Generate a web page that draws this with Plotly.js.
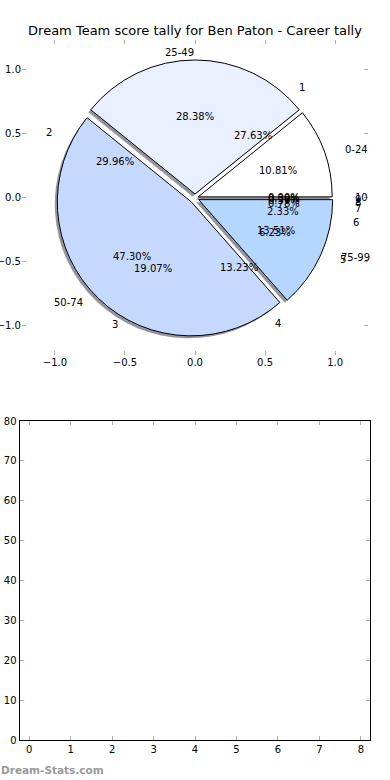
<!DOCTYPE html>
<html><head><meta charset="utf-8">
<script src="https://cdn.plot.ly/plotly-3.0.1.min.js"></script>
<style>html,body{margin:0;padding:0;background:#fff}#chart{width:390px;height:780px}</style>
</head><body><div id="chart"></div>
<script>
// ---- data ----
var rangeLabels = ['0-24', '25-49', '50-74', '75-99'];
var rangeValues = [10.81, 28.38, 47.30, 13.51];
var scoreLabels = ['1', '2', '3', '4', '5', '6', '7', '8', '9', '10'];
var scoreValues = [27.63, 29.96, 19.07, 13.23, 6.23, 2.33, 0.78, 0.39, 0.39, 0.00];
var pieTicks = [-1, -0.5, 0, 0.5, 1];
var lowerXTicks = [0, 1, 2, 3, 4, 5, 6, 7, 8];
var lowerYTicks = [0, 10, 20, 30, 40, 50, 60, 70, 80];

// ---- styles ----
var rangeColors = ['#ffffff', '#e9f0ff', '#c5d9ff', '#b4d6ff'];
var rangeExplode = [0.025, 0.03, 0.04, 0.03];
var textExplode = [0.03, 0.035, 0.045, 0.035];
var scoreExplode = 0.035;
var FONT = 'DejaVu Sans, sans-serif';
var W = 390, H = 780;
function px(x) { return x / W; }
function py(y) { return 1 - y / H; }
function sum(a) { return a.reduce(function (s, v) { return s + v; }, 0); }
// first slice starts at 3 o'clock and runs counterclockwise (matplotlib default)
function rot(values) { return 90 - 360 * values[0] / sum(values); }

var cx = 195, cy = 198, R = 134;
var maxPull = Math.max.apply(null, rangeExplode);
var half = R * (1 + maxPull);
function dom(dx, dy) {
  return { x: [px(cx - half + dx), px(cx + half + dx)], y: [py(cy + half + dy), py(cy - half + dy)] };
}

var traces = [];
traces.push({ type: 'scatter', x: [], y: [], xaxis: 'x', yaxis: 'y', showlegend: false });
traces.push({ type: 'scatter', x: [], y: [], xaxis: 'x2', yaxis: 'y2', showlegend: false });
// second pie (scores) underneath, hidden by the range pie
traces.push({
  type: 'pie', labels: scoreLabels, values: scoreValues, sort: false,
  direction: 'counterclockwise', rotation: rot(scoreValues), textinfo: 'none', hoverinfo: 'skip',
  marker: { colors: scoreLabels.map(function () { return 'rgba(0,0,0,0)'; }), line: { width: 0 } },
  domain: dom(0, 0), showlegend: false
});
// shadow of range pie
traces.push({
  type: 'pie', labels: rangeLabels, values: rangeValues, sort: false,
  direction: 'counterclockwise', rotation: rot(rangeValues), textinfo: 'none', hoverinfo: 'skip',
  pull: rangeExplode,
  marker: { colors: rangeLabels.map(function () { return 'rgba(40,45,60,0.5)'; }), line: { width: 0 } },
  domain: dom(-2.5, 2.5), showlegend: false
});
// range pie
traces.push({
  type: 'pie', labels: rangeLabels, values: rangeValues, sort: false,
  direction: 'counterclockwise', rotation: rot(rangeValues), textinfo: 'none', hoverinfo: 'skip',
  pull: rangeExplode,
  marker: { colors: rangeColors, line: { color: '#000', width: 1 } },
  domain: dom(0, 0), showlegend: false
});

// annotations like matplotlib pie labels (0.6 r for pct, 1.1 r for labels)
var annotations = [];
function addPieTexts(labels, values, explodeOf) {
  var total = sum(values);
  var cum = 0;
  labels.forEach(function (lab, i) {
    var v = values[i];
    var th = 2 * Math.PI * (cum + v / 2) / total;
    cum += v;
    var e = explodeOf(i);
    var ox = e * Math.cos(th), oy = e * Math.sin(th);
    var lx = ox + 1.1 * Math.cos(th), ly = oy + 1.1 * Math.sin(th);
    annotations.push({
      xref: 'x', yref: 'y', x: lx, y: ly, text: lab, showarrow: false,
      xanchor: lx > 1e-9 ? 'left' : 'right', yanchor: 'middle',
      font: { family: FONT, size: 10, color: '#000' }, borderpad: 0
    });
    var tx = ox + 0.6 * Math.cos(th), ty = oy + 0.6 * Math.sin(th);
    annotations.push({
      xref: 'x', yref: 'y', x: tx, y: ty, text: v.toFixed(2) + '%', showarrow: false,
      xanchor: 'center', yanchor: 'middle',
      font: { family: FONT, size: 10, color: '#000' }, borderpad: 0
    });
  });
}
addPieTexts(rangeLabels, rangeValues, function (i) { return textExplode[i]; });
addPieTexts(scoreLabels, scoreValues, function () { return scoreExplode; });

annotations.push({
  xref: 'paper', yref: 'paper', x: 0, y: py(770), xanchor: 'left', yanchor: 'middle',
  text: 'Dream-Stats.com', showarrow: false, borderpad: 0,
  font: { family: FONT, size: 10.5, color: '#999999', weight: 'bold' }
});

function fmt(v) { return v.toFixed(1).replace('-', '\u2212'); }

var tickFont = { family: FONT, size: 10, color: '#000' };
var layout = {
  width: W, height: H,
  margin: { l: 0, r: 0, t: 0, b: 0 },
  paper_bgcolor: '#fff', plot_bgcolor: 'rgba(0,0,0,0)',
  showlegend: false, hovermode: false,
  title: {
    text: 'Dream Team score tally for Ben Paton - Career tally',
    x: 0.5, xanchor: 'center', y: py(30), yanchor: 'middle', xref: 'paper', yref: 'paper',
    font: { family: FONT, size: 13, color: '#000' }
  },
  xaxis: {
    domain: [px(22), px(368)], range: [-1.235, 1.235], anchor: 'y',
    showgrid: false, zeroline: false, showline: false,
    tickvals: pieTicks, ticktext: pieTicks.map(fmt),
    ticks: 'inside', ticklen: 4, tickcolor: '#b0b0b0', mirror: 'ticks',
    tickfont: tickFont, fixedrange: true
  },
  yaxis: {
    domain: [py(355), py(40)], range: [-1.235, 1.235], anchor: 'x',
    showgrid: false, zeroline: false, showline: false,
    tickvals: pieTicks, ticktext: pieTicks.map(fmt),
    ticks: 'inside', ticklen: 4, tickcolor: '#b0b0b0', mirror: 'ticks',
    tickfont: tickFont, fixedrange: true
  },
  xaxis2: {
    domain: [px(19.5), px(370)], range: [-0.235, 8.22], anchor: 'y2',
    showgrid: false, zeroline: false, showline: true, linecolor: '#000', linewidth: 1,
    tickvals: lowerXTicks, ticktext: lowerXTicks.map(String),
    ticks: 'inside', ticklen: 4, tickcolor: '#b0b0b0', mirror: 'ticks',
    tickfont: tickFont, fixedrange: true
  },
  yaxis2: {
    domain: [py(740), py(421)], range: [0, 80], anchor: 'x2',
    showgrid: false, zeroline: false, showline: true, linecolor: '#000', linewidth: 1,
    tickvals: lowerYTicks, ticktext: lowerYTicks.map(String),
    ticks: 'inside', ticklen: 4, tickcolor: '#b0b0b0', mirror: 'ticks',
    tickfont: tickFont, fixedrange: true
  },
  annotations: annotations
};

Plotly.newPlot('chart', traces, layout, { staticPlot: true, displayModeBar: false });
</script>
</body></html>
